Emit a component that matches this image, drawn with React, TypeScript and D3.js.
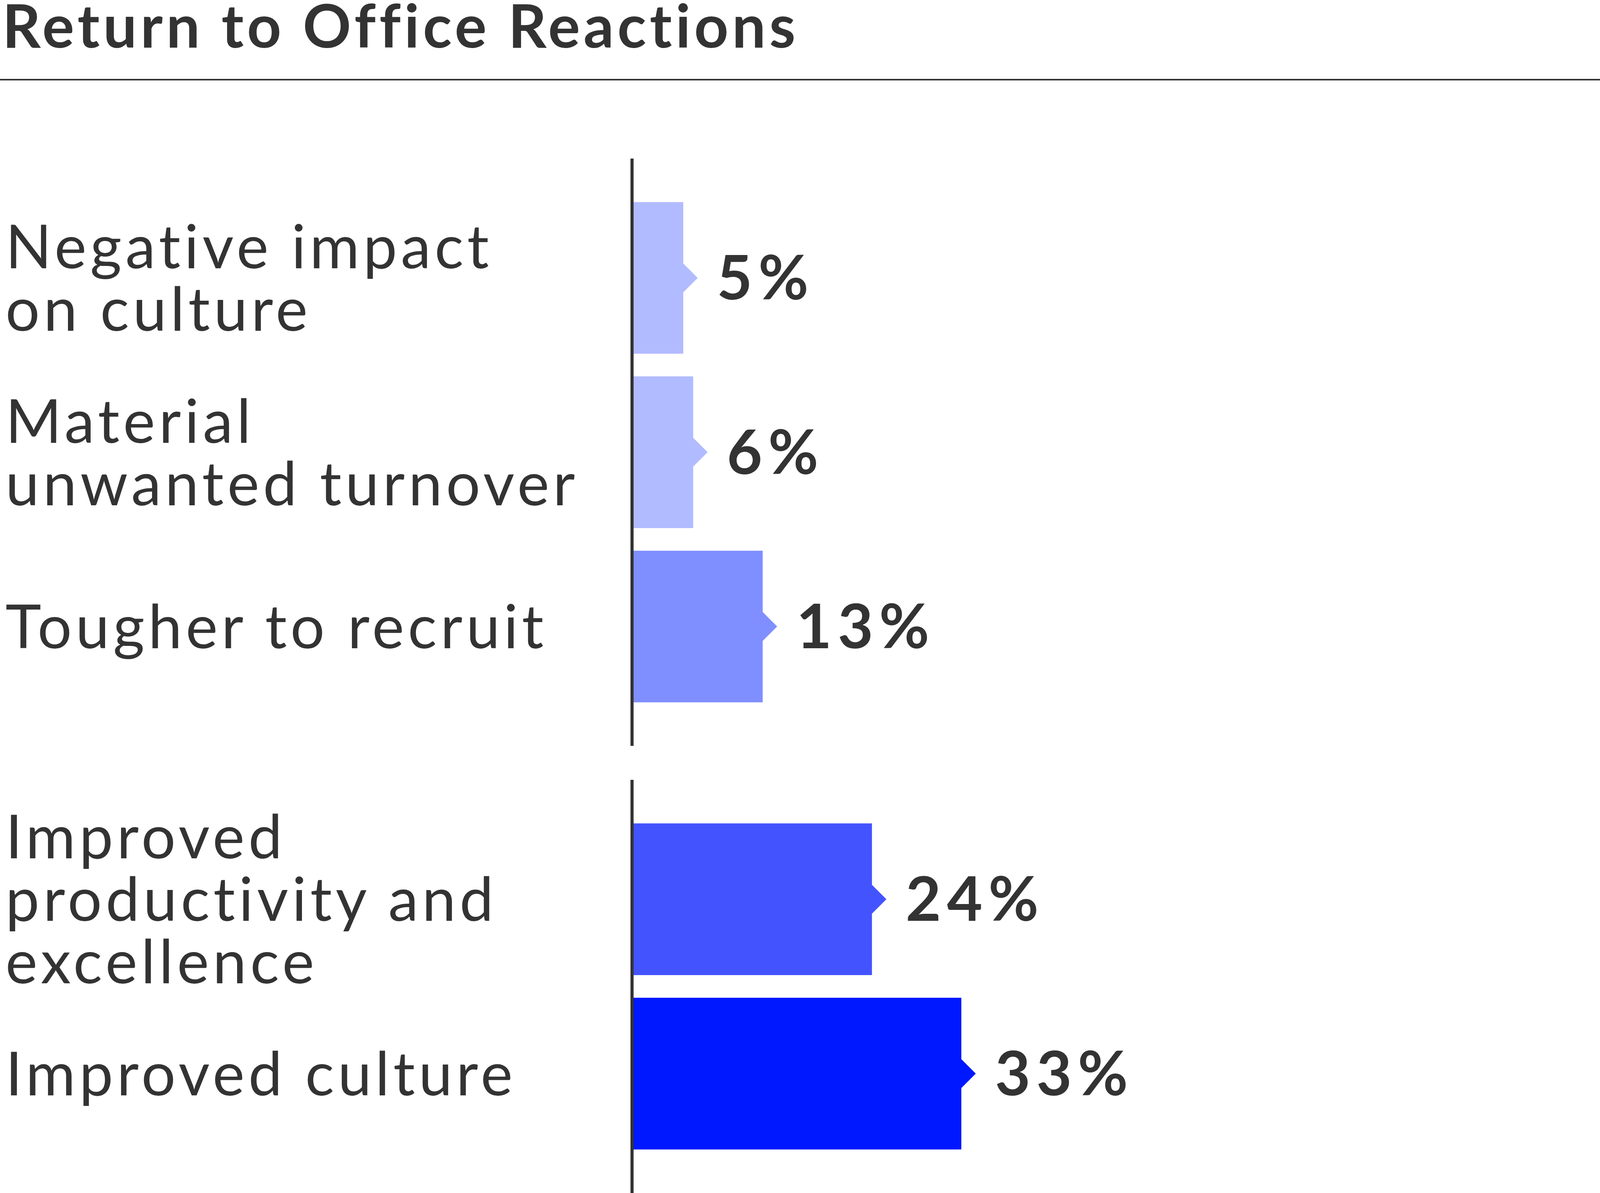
import React, { useEffect, useRef } from "react";
import * as d3 from "d3";

const title = "Return to Office Reactions";

const categories = [
  "Negative impact on culture",
  "Material unwanted turnover",
  "Tougher to recruit",
  "Improved productivity and excellence",
  "Improved culture",
];

// how each category label is broken into lines
const labelLines = [
  ["Negative impact", "on culture"],
  ["Material", "unwanted turnover"],
  ["Tougher to recruit"],
  ["Improved", "productivity and", "excellence"],
  ["Improved culture"],
];

const values = [5, 6, 13, 24, 33];

const groupOf = ["concerns", "concerns", "concerns", "benefits", "benefits"];

const barColors = ["#b1bbff", "#b1bbff", "#808fff", "#4354ff", "#0018ff"];

const App: React.FC = () => {
  const ref = useRef<SVGSVGElement>(null);

  useEffect(() => {
    document.body.style.margin = "0";

    const svg = d3.select(ref.current);
    svg.selectAll("*").remove();

    const width = 4159;
    const height = 3055;
    const textColor = "#333333";
    const font = "Lato, 'Noto Sans', sans-serif";
    const axisX = 1618;
    const notch = 37;
    const lineHeight = 160;
    const capHalf = 55.5;

    svg
      .attr("viewBox", `0 0 ${width} ${height}`)
      .attr("width", width)
      .attr("height", height);

    svg
      .append("text")
      .attr("x", 6)
      .attr("y", 122)
      .attr("fill", textColor)
      .attr("font-family", font)
      .attr("font-size", 153)
      .attr("font-weight", 700)
      .attr("letter-spacing", 9)
      .style("font-variant-ligatures", "none")
      .text(title);

    svg
      .append("line")
      .attr("x1", 0)
      .attr("x2", width)
      .attr("y1", 204)
      .attr("y2", 204)
      .attr("stroke", textColor)
      .attr("stroke-width", 4);

    const x = d3.scaleLinear().domain([0, 33]).range([1622, 2461]);

    const groups = [
      { key: "concerns", range: [406, 1910] as [number, number] },
      { key: "benefits", range: [1997, 3055] as [number, number] },
    ];

    const rows = categories.map((c, i) => ({
      category: c,
      value: values[i],
      lines: labelLines[i],
      group: groupOf[i],
      color: barColors[i],
    }));

    groups.forEach((g) => {
      const gRows = rows.filter((r) => r.group === g.key);
      const y = d3
        .scaleBand()
        .domain(gRows.map((r) => r.category))
        .range(g.range)
        .paddingInner(0.13)
        .paddingOuter(0.25);

      const grp = svg.append("g");

      grp
        .selectAll("path.bar")
        .data(gRows)
        .join("path")
        .attr("class", "bar")
        .attr("fill", (d) => d.color)
        .attr("d", (d) => {
          const y0 = y(d.category)!;
          const y1 = y0 + y.bandwidth();
          const cy = y0 + y.bandwidth() / 2;
          const x0 = x(0);
          const xe = x(d.value);
          return `M${x0},${y0}H${xe}V${cy - notch}L${xe + notch},${cy}L${xe},${
            cy + notch
          }V${y1}H${x0}Z`;
        });

      grp
        .selectAll("text.value")
        .data(gRows)
        .join("text")
        .attr("class", "value")
        .attr("x", (d) => x(d.value) + 86)
        .attr("y", (d) => y(d.category)! + y.bandwidth() / 2 + capHalf)
        .attr("fill", textColor)
        .attr("font-family", font)
        .attr("font-size", 157)
        .attr("font-weight", 700)
        .attr("letter-spacing", 15)
        .text((d) => `${d.value}%`);

      const labels = grp
        .selectAll("text.label")
        .data(gRows)
        .join("text")
        .attr("class", "label")
        .attr("fill", textColor)
        .attr("font-family", font)
        .attr("font-size", 155)
        .attr("font-weight", 400)
        .attr("letter-spacing", 9.5)
        .style("font-variant-ligatures", "none");

      labels.each(function (d) {
        const cy = y(d.category)! + y.bandwidth() / 2;
        const first = cy + capHalf - ((d.lines.length - 1) * lineHeight) / 2;
        d3.select(this)
          .selectAll("tspan")
          .data(d.lines)
          .join("tspan")
          .attr("x", 14)
          .attr("y", (_, i) => first + i * lineHeight)
          .text((t) => t);
      });

      grp
        .append("line")
        .attr("x1", axisX)
        .attr("x2", axisX)
        .attr("y1", g.range[0])
        .attr("y2", g.range[1])
        .attr("stroke", textColor)
        .attr("stroke-width", 8);
    });
  }, []);

  return <svg ref={ref} style={{ display: "block", background: "#ffffff" }}></svg>;
};

export default App;
